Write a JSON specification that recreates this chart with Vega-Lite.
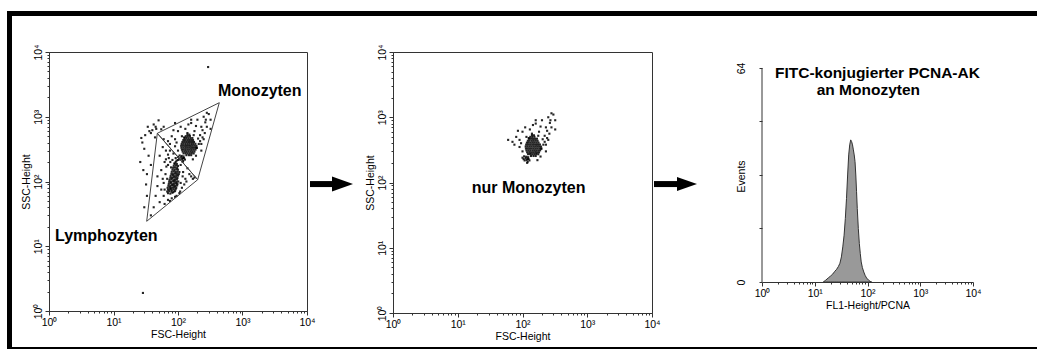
{
"$schema":"https://vega.github.io/schema/vega-lite/v6.json",
"padding":{"left":7,"top":7,"right":0,"bottom":8},
"background":"white",
"data":{"values":[{}]},
"datasets":{
"events":[
{"x":70,"y":66,"g":"L"},{"x":76,"y":65,"g":"L"},{"x":82,"y":67,"g":"L"},
{"x":68,"y":70,"g":"L"},{"x":73,"y":71,"g":"L"},{"x":79,"y":70,"g":"L"},{"x":85,"y":69,"g":"L"},{"x":90,"y":71,"g":"L"},
{"x":70,"y":75,"g":"L"},{"x":75,"y":76,"g":"L"},{"x":80,"y":74,"g":"L"},{"x":86,"y":75,"g":"L"},{"x":92,"y":76,"g":"L"},
{"x":69,"y":80,"g":"L"},{"x":74,"y":81,"g":"L"},{"x":78,"y":79,"g":"L"},{"x":83,"y":80,"g":"L"},{"x":88,"y":81,"g":"L"},{"x":94,"y":80,"g":"L"},
{"x":71,"y":86,"g":"L"},{"x":76,"y":85,"g":"L"},{"x":81,"y":87,"g":"L"},{"x":86,"y":86,"g":"L"},{"x":91,"y":85,"g":"L"},{"x":97,"y":87,"g":"L"},
{"x":72,"y":92,"g":"L"},{"x":77,"y":93,"g":"L"},{"x":82,"y":91,"g":"L"},{"x":87,"y":92,"g":"L"},{"x":93,"y":93,"g":"L"},{"x":98,"y":92,"g":"L"},
{"x":73,"y":99,"g":"L"},{"x":78,"y":98,"g":"L"},{"x":84,"y":100,"g":"L"},{"x":89,"y":99,"g":"L"},{"x":95,"y":98,"g":"L"},{"x":101,"y":100,"g":"L"},
{"x":74,"y":106,"g":"L"},{"x":79,"y":107,"g":"L"},{"x":85,"y":105,"g":"L"},{"x":90,"y":106,"g":"L"},{"x":96,"y":107,"g":"L"},
{"x":76,"y":114,"g":"L"},{"x":81,"y":113,"g":"L"},{"x":86,"y":115,"g":"L"},{"x":92,"y":114,"g":"L"},{"x":98,"y":113,"g":"L"},
{"x":77,"y":122,"g":"L"},{"x":83,"y":123,"g":"L"},{"x":88,"y":121,"g":"L"},{"x":94,"y":122,"g":"L"},{"x":100,"y":123,"g":"L"},
{"x":79,"y":131,"g":"L"},{"x":84,"y":130,"g":"L"},{"x":90,"y":132,"g":"L"},{"x":96,"y":131,"g":"L"},{"x":103,"y":130,"g":"L"},
{"x":80,"y":141,"g":"L"},{"x":86,"y":142,"g":"L"},{"x":92,"y":140,"g":"L"},{"x":98,"y":141,"g":"L"},
{"x":82,"y":152,"g":"L"},{"x":88,"y":151,"g":"L"},{"x":94,"y":153,"g":"L"},{"x":100,"y":152,"g":"L"},
{"x":84,"y":163,"g":"L"},{"x":90,"y":164,"g":"L"},{"x":97,"y":162,"g":"L"},
{"x":86,"y":175,"g":"L"},{"x":93,"y":176,"g":"L"},{"x":100,"y":174,"g":"L"},
{"x":89,"y":188,"g":"L"},{"x":96,"y":187,"g":"L"},{"x":92,"y":200,"g":"L"},
{"x":55,"y":150,"g":"L"},{"x":60,"y":95,"g":"L"},{"x":62,"y":200,"g":"L"},{"x":65,"y":300,"g":"L"},{"x":70,"y":260,"g":"L"},
{"x":100,"y":215,"g":"L"},{"x":110,"y":180,"g":"L"},{"x":120,"y":140,"g":"L"},{"x":130,"y":110,"g":"L"},{"x":115,"y":80,"g":"L"},
{"x":105,"y":66,"g":"L"},{"x":95,"y":60,"g":"L"},{"x":60,"y":60,"g":"L"},{"x":52,"y":48,"g":"L"},{"x":48,"y":120,"g":"L"},
{"x":52,"y":250,"g":"L"},{"x":58,"y":340,"g":"L"},{"x":75,"y":300,"g":"L"},{"x":85,"y":270,"g":"L"},{"x":140,"y":160,"g":"L"},
{"x":150,"y":130,"g":"L"},{"x":125,"y":90,"g":"L"},{"x":90,"y":58,"g":"L"},{"x":80,"y":55,"g":"L"},{"x":55,"y":75,"g":"L"},
{"x":48,"y":85,"g":"L"},{"x":66,"y":170,"g":"L"},{"x":72,"y":230,"g":"L"},{"x":64,"y":130,"g":"L"},{"x":68,"y":110,"g":"L"},
{"x":110,"y":95,"g":"L"},{"x":118,"y":120,"g":"L"},{"x":105,"y":140,"g":"L"},{"x":62,"y":75,"g":"L"},{"x":58,"y":110,"g":"L"},
{"x":108,"y":70,"g":"L"},{"x":135,"y":100,"g":"L"},{"x":160,"y":120,"g":"L"},{"x":170,"y":110,"g":"L"},{"x":180,"y":115,"g":"L"},
{"x":62,"y":45,"g":"L"},{"x":75,"y":50,"g":"L"},{"x":70,"y":52,"g":"L"},{"x":45,"y":60,"g":"L"},{"x":42,"y":40,"g":"L"},{"x":38,"y":30,"g":"L"},
{"x":70,"y":180,"g":"L"},{"x":76,"y":200,"g":"L"},{"x":82,"y":215,"g":"L"},{"x":88,"y":190,"g":"L"},{"x":78,"y":165,"g":"L"},{"x":92,"y":230,"g":"L"},{"x":95,"y":210,"g":"L"},{"x":65,"y":220,"g":"L"},
{"x":28,"y":400,"g":"N"},{"x":30,"y":320,"g":"N"},{"x":35,"y":250,"g":"N"},{"x":38,"y":180,"g":"N"},{"x":33,"y":130,"g":"N"},
{"x":33,"y":60,"g":"N"},{"x":30,"y":40,"g":"N"},{"x":44,"y":480,"g":"N"},{"x":26,"y":200,"g":"N"},{"x":38,"y":560,"g":"N"},
{"x":40,"y":620,"g":"N"},{"x":32,"y":90,"g":"N"},{"x":29,"y":150,"g":"N"},{"x":45,"y":700,"g":"N"},{"x":55,"y":640,"g":"N"},
{"x":60,"y":700,"g":"N"},{"x":90,"y":800,"g":"N"},{"x":27,"y":470,"g":"N"},{"x":31,"y":520,"g":"N"},{"x":34,"y":700,"g":"N"},
{"x":36,"y":600,"g":"N"},{"x":42,"y":760,"g":"N"},{"x":50,"y":880,"g":"N"},{"x":46,"y":650,"g":"N"},
{"x":293,"y":5860,"g":"N"},{"x":28.6,"y":1.9,"g":"N"},
{"x":135,"y":255,"g":"M"},{"x":148,"y":255,"g":"M"},{"x":160,"y":255,"g":"M"},
{"x":122,"y":272,"g":"M"},{"x":131,"y":273,"g":"M"},{"x":141,"y":271,"g":"M"},{"x":152,"y":272,"g":"M"},{"x":163,"y":273,"g":"M"},{"x":175,"y":271,"g":"M"},
{"x":118,"y":290,"g":"M"},{"x":127,"y":291,"g":"M"},{"x":136,"y":289,"g":"M"},{"x":146,"y":290,"g":"M"},{"x":157,"y":291,"g":"M"},{"x":168,"y":289,"g":"M"},{"x":180,"y":290,"g":"M"},
{"x":115,"y":310,"g":"M"},{"x":123,"y":311,"g":"M"},{"x":132,"y":309,"g":"M"},{"x":142,"y":310,"g":"M"},{"x":152,"y":311,"g":"M"},{"x":163,"y":309,"g":"M"},{"x":175,"y":310,"g":"M"},{"x":187,"y":311,"g":"M"},
{"x":113,"y":332,"g":"M"},{"x":121,"y":333,"g":"M"},{"x":130,"y":331,"g":"M"},{"x":139,"y":332,"g":"M"},{"x":149,"y":333,"g":"M"},{"x":160,"y":331,"g":"M"},{"x":171,"y":332,"g":"M"},{"x":183,"y":333,"g":"M"},{"x":195,"y":331,"g":"M"},
{"x":112,"y":356,"g":"M"},{"x":120,"y":357,"g":"M"},{"x":129,"y":355,"g":"M"},{"x":138,"y":356,"g":"M"},{"x":148,"y":357,"g":"M"},{"x":158,"y":355,"g":"M"},{"x":169,"y":356,"g":"M"},{"x":181,"y":357,"g":"M"},{"x":193,"y":355,"g":"M"},
{"x":114,"y":381,"g":"M"},{"x":122,"y":382,"g":"M"},{"x":131,"y":380,"g":"M"},{"x":141,"y":381,"g":"M"},{"x":151,"y":382,"g":"M"},{"x":162,"y":380,"g":"M"},{"x":173,"y":381,"g":"M"},{"x":186,"y":382,"g":"M"},
{"x":117,"y":408,"g":"M"},{"x":125,"y":409,"g":"M"},{"x":134,"y":407,"g":"M"},{"x":144,"y":408,"g":"M"},{"x":154,"y":409,"g":"M"},{"x":165,"y":407,"g":"M"},{"x":177,"y":408,"g":"M"},
{"x":121,"y":437,"g":"M"},{"x":129,"y":438,"g":"M"},{"x":139,"y":436,"g":"M"},{"x":149,"y":437,"g":"M"},{"x":160,"y":438,"g":"M"},{"x":171,"y":436,"g":"M"},
{"x":126,"y":468,"g":"M"},{"x":135,"y":469,"g":"M"},{"x":145,"y":467,"g":"M"},{"x":156,"y":468,"g":"M"},{"x":167,"y":469,"g":"M"},
{"x":132,"y":501,"g":"M"},{"x":142,"y":500,"g":"M"},{"x":153,"y":502,"g":"M"},
{"x":140,"y":530,"g":"M"},{"x":150,"y":529,"g":"M"},
{"x":70,"y":420,"g":"M"},{"x":80,"y":500,"g":"M"},{"x":90,"y":450,"g":"M"},{"x":100,"y":600,"g":"M"},{"x":110,"y":700,"g":"M"},
{"x":130,"y":650,"g":"M"},{"x":160,"y":800,"g":"M"},{"x":200,"y":900,"g":"M"},{"x":250,"y":1000,"g":"M"},{"x":300,"y":1100,"g":"M"},
{"x":180,"y":600,"g":"M"},{"x":220,"y":520,"g":"M"},{"x":250,"y":450,"g":"M"},{"x":210,"y":380,"g":"M"},{"x":230,"y":300,"g":"M"},
{"x":190,"y":250,"g":"M"},{"x":170,"y":220,"g":"M"},{"x":120,"y":230,"g":"M"},{"x":100,"y":300,"g":"M"},{"x":90,"y":350,"g":"M"},
{"x":75,"y":380,"g":"M"},{"x":60,"y":450,"g":"M"},{"x":85,"y":620,"g":"M"},{"x":140,"y":560,"g":"M"},{"x":175,"y":520,"g":"M"},
{"x":280,"y":700,"g":"M"},{"x":320,"y":900,"g":"M"},{"x":160,"y":900,"g":"M"},{"x":240,"y":620,"g":"M"},{"x":205,"y":460,"g":"M"},
{"x":265,"y":820,"g":"M"},{"x":190,"y":720,"g":"M"},{"x":145,"y":760,"g":"M"},{"x":115,"y":500,"g":"M"},{"x":95,"y":400,"g":"M"},
{"x":125,"y":480,"g":"M"},{"x":230,"y":380,"g":"M"},{"x":195,"y":330,"g":"M"},
{"x":100,"y":240,"g":"M"},{"x":104,"y":228,"g":"M"},{"x":108,"y":218,"g":"M"},{"x":112,"y":236,"g":"M"},{"x":116,"y":222,"g":"M"},
{"x":120,"y":208,"g":"M"},{"x":124,"y":230,"g":"M"},{"x":128,"y":218,"g":"M"},{"x":106,"y":252,"g":"M"},{"x":114,"y":248,"g":"M"},
{"x":122,"y":244,"g":"M"},{"x":118,"y":200,"g":"M"},
{"x":230,"y":700,"g":"M"},{"x":270,"y":900,"g":"M"},{"x":280,"y":1150,"g":"M"},{"x":320,"y":650,"g":"M"},{"x":260,"y":560,"g":"M"},
{"x":240,"y":480,"g":"M"},{"x":220,"y":420,"g":"M"}
],
"gates":[
{"gate":"Lymphozyten","i":0,"x":32.7,"y":24.3},{"gate":"Lymphozyten","i":1,"x":47.8,"y":555},{"gate":"Lymphozyten","i":2,"x":202,"y":106.6},{"gate":"Lymphozyten","i":3,"x":32.7,"y":24.3},
{"gate":"Monozyten","i":0,"x":47.8,"y":555},{"gate":"Monozyten","i":1,"x":437,"y":1648},{"gate":"Monozyten","i":2,"x":202,"y":106.6},{"gate":"Monozyten","i":3,"x":47.8,"y":555}
],
"hist":[
{"fl1":14.5,"count":0},{"fl1":16,"count":0.5},{"fl1":18,"count":1.2},{"fl1":20,"count":1.8},{"fl1":22,"count":2.4},{"fl1":24,"count":3.2},
{"fl1":26,"count":3.8},{"fl1":28,"count":4.6},{"fl1":30,"count":5.6},{"fl1":32,"count":7.5},{"fl1":34,"count":10.5},{"fl1":36,"count":14},
{"fl1":38,"count":19},{"fl1":40,"count":25},{"fl1":42,"count":32},{"fl1":44,"count":38},{"fl1":46,"count":41},{"fl1":48,"count":42.5},
{"fl1":50,"count":42},{"fl1":52,"count":41},{"fl1":54,"count":39.5},{"fl1":56,"count":38},{"fl1":58,"count":36},{"fl1":60,"count":32},
{"fl1":62,"count":27},{"fl1":64,"count":22},{"fl1":67,"count":16},{"fl1":70,"count":11.5},{"fl1":73,"count":8.5},{"fl1":76,"count":6},
{"fl1":80,"count":4.3},{"fl1":85,"count":3},{"fl1":90,"count":2},{"fl1":96,"count":1.2},{"fl1":104,"count":0.6},{"fl1":112,"count":0.2},{"fl1":120,"count":0}
]
},
"config":{
"font":"Liberation Sans",
"view":{"stroke":null},
"axis":{"grid":false,"domainColor":"#333","tickColor":"#333","labelColor":"#000","titleColor":"#000","labelFontSize":10.5,"titleFontSize":10.5,"titleFontWeight":"normal","labelPadding":2,"titlePadding":2,"domainWidth":1,"tickWidth":1}
},
"columns":8,
"spacing":0,
"bounds":"flush",
"concat":[
{"width":5,"height":5,"view":{"fill":"#000","stroke":null},"mark":{"type":"text","text":""}},
{"width":37,"height":5,"view":{"fill":"#000","stroke":null},"mark":{"type":"text","text":""}},
{"width":258,"height":5,"view":{"fill":"#000","stroke":null},"mark":{"type":"text","text":""}},
{"width":86,"height":5,"view":{"fill":"#000","stroke":null},"mark":{"type":"text","text":""}},
{"width":259,"height":5,"view":{"fill":"#000","stroke":null},"mark":{"type":"text","text":""}},
{"width":110,"height":5,"view":{"fill":"#000","stroke":null},"mark":{"type":"text","text":""}},
{"width":211,"height":5,"view":{"fill":"#000","stroke":null},"mark":{"type":"text","text":""}},
{"width":64,"height":5,"view":{"fill":"#000","stroke":null},"mark":{"type":"text","text":""}},

{"width":5,"height":36,"view":{"fill":"#000","stroke":null},"mark":{"type":"text","text":""}},
{"width":1,"height":1,"mark":{"type":"text","text":""}},
{"width":1,"height":1,"mark":{"type":"text","text":""}},
{"width":1,"height":1,"mark":{"type":"text","text":""}},
{"width":1,"height":1,"mark":{"type":"text","text":""}},
{"width":1,"height":1,"mark":{"type":"text","text":""}},
{"width":1,"height":1,"mark":{"type":"text","text":""}},
{"width":1,"height":1,"mark":{"type":"text","text":""}},

{"width":5,"height":261,"view":{"fill":"#000","stroke":null},"mark":{"type":"text","text":""}},
{"width":1,"height":1,"mark":{"type":"text","text":""}},
{"width":258,"height":259,"view":{"stroke":"#333","fill":null},
"layer":[
{"data":{"name":"events"},"mark":{"type":"square","size":4.5,"color":"#000","opacity":0.85},
"encoding":{
"x":{"field":"x","type":"quantitative","title":"FSC-Height","scale":{"type":"log","domain":[1,10000]},
"axis":{"values":[1,2,3,4,5,6,7,8,9,10,20,30,40,50,60,70,80,90,100,200,300,400,500,600,700,800,900,1000,2000,3000,4000,5000,6000,7000,8000,9000,10000],
"labelExpr":"indexof([1,10,100,1000,10000], datum.value) >= 0 ? '10' + ['⁰','¹','²','³','⁴'][indexof([1,10,100,1000,10000], datum.value)] : ''",
"tickSize":{"condition":{"test":"indexof([1,10,100,1000,10000], datum.value) >= 0","value":4},"value":2},
"labelFlush":false,"labelOverlap":false}},
"y":{"field":"y","type":"quantitative","title":"SSC-Height","scale":{"type":"log","domain":[1,10000]},
"axis":{"values":[1,2,3,4,5,6,7,8,9,10,20,30,40,50,60,70,80,90,100,200,300,400,500,600,700,800,900,1000,2000,3000,4000,5000,6000,7000,8000,9000,10000],
"labelExpr":"indexof([1,10,100,1000,10000], datum.value) >= 0 ? '10' + ['⁰','¹','²','³','⁴'][indexof([1,10,100,1000,10000], datum.value)] : ''",
"tickSize":{"condition":{"test":"indexof([1,10,100,1000,10000], datum.value) >= 0","value":4},"value":2},
"labelFlush":false,"labelOverlap":false,"labelAngle":270,"labelAlign":"center","labelBaseline":"bottom","titlePadding":2}}
}},
{"data":{"name":"gates"},"mark":{"type":"line","color":"#444","strokeWidth":1},
"encoding":{"x":{"field":"x","type":"quantitative"},"y":{"field":"y","type":"quantitative"},"detail":{"field":"gate"},"order":{"field":"i","type":"quantitative"}}},
{"mark":{"type":"text","text":"Monozyten","align":"left","baseline":"alphabetic","fontSize":16,"fontWeight":"bold","color":"#000"},
"encoding":{"x":{"datum":417},"y":{"datum":2114}}},
{"mark":{"type":"text","text":"Lymphozyten","align":"left","baseline":"alphabetic","fontSize":16,"fontWeight":"bold","color":"#000"},
"encoding":{"x":{"datum":1.24},"y":{"datum":11.9}}}
]},
{"width":86,"height":261,
"layer":[
{"mark":{"type":"rule","color":"#000","strokeWidth":6},
"encoding":{"x":{"datum":0.035,"type":"quantitative","scale":{"domain":[0,1]},"axis":null},"x2":{"datum":0.305},"y":{"datum":0.494,"type":"quantitative","scale":{"domain":[0,1]},"axis":null}}},
{"mark":{"type":"point","shape":"M-1,-0.71L1,0L-1,0.71Z","size":441,"filled":true,"color":"#000","opacity":1},
"encoding":{"x":{"datum":0.413,"type":"quantitative"},"y":{"datum":0.494,"type":"quantitative"}}}
]},
{"width":259,"height":261,"view":{"stroke":"#333","fill":null},
"layer":[
{"data":{"name":"events"},"transform":[{"filter":"datum.g === 'M'"}],"mark":{"type":"square","size":4.5,"color":"#000","opacity":0.85},
"encoding":{
"x":{"field":"x","type":"quantitative","title":"FSC-Height","scale":{"type":"log","domain":[1,10000]},
"axis":{"values":[1,2,3,4,5,6,7,8,9,10,20,30,40,50,60,70,80,90,100,200,300,400,500,600,700,800,900,1000,2000,3000,4000,5000,6000,7000,8000,9000,10000],
"labelExpr":"indexof([1,10,100,1000,10000], datum.value) >= 0 ? '10' + ['⁰','¹','²','³','⁴'][indexof([1,10,100,1000,10000], datum.value)] : ''",
"tickSize":{"condition":{"test":"indexof([1,10,100,1000,10000], datum.value) >= 0","value":4},"value":2},
"labelFlush":false,"labelOverlap":false}},
"y":{"field":"y","type":"quantitative","title":"SSC-Height","scale":{"type":"log","domain":[1,10000]},
"axis":{"values":[1,2,3,4,5,6,7,8,9,10,20,30,40,50,60,70,80,90,100,200,300,400,500,600,700,800,900,1000,2000,3000,4000,5000,6000,7000,8000,9000,10000],
"labelExpr":"indexof([1,10,100,1000,10000], datum.value) >= 0 ? '10' + ['⁰','¹','²','³','⁴'][indexof([1,10,100,1000,10000], datum.value)] : ''",
"tickSize":{"condition":{"test":"indexof([1,10,100,1000,10000], datum.value) >= 0","value":4},"value":2},
"labelFlush":false,"labelOverlap":false,"labelAngle":270,"labelAlign":"center","labelBaseline":"bottom","titlePadding":2}}
}},
{"mark":{"type":"text","text":"nur Monozyten","align":"left","baseline":"alphabetic","fontSize":16,"fontWeight":"bold","color":"#000"},
"encoding":{"x":{"datum":16.4},"y":{"datum":69}}}
]},
{"width":110,"height":261,
"layer":[
{"mark":{"type":"rule","color":"#000","strokeWidth":6},
"encoding":{"x":{"datum":0.018,"type":"quantitative","scale":{"domain":[0,1]},"axis":null},"x2":{"datum":0.24},"y":{"datum":0.494,"type":"quantitative","scale":{"domain":[0,1]},"axis":null}}},
{"mark":{"type":"point","shape":"M-1,-0.7L1,0L-1,0.7Z","size":400,"filled":true,"color":"#000","opacity":1},
"encoding":{"x":{"datum":0.318,"type":"quantitative"},"y":{"datum":0.494,"type":"quantitative"}}}
]},
{"width":211,"height":230,
"layer":[
{"data":{"name":"hist"},"mark":{"type":"area","color":"#999","stroke":"#333","strokeWidth":1,"opacity":1},
"encoding":{
"x":{"field":"fl1","type":"quantitative","title":"FL1-Height/PCNA","scale":{"type":"log","domain":[1,10000]},
"axis":{"values":[1,2,3,4,5,6,7,8,9,10,20,30,40,50,60,70,80,90,100,200,300,400,500,600,700,800,900,1000,2000,3000,4000,5000,6000,7000,8000,9000,10000],
"labelExpr":"indexof([1,10,100,1000,10000], datum.value) >= 0 ? '10' + ['⁰','¹','²','³','⁴'][indexof([1,10,100,1000,10000], datum.value)] : ''",
"tickSize":{"condition":{"test":"indexof([1,10,100,1000,10000], datum.value) >= 0","value":4},"value":2},
"labelFlush":false,"labelOverlap":false}},
"y":{"field":"count","type":"quantitative","title":"Events","scale":{"domain":[0,68.78],"nice":false},
"axis":{"values":[0,16,32,48,64],"domain":false,"tickSize":3,"labelExpr":"datum.value == 0 || datum.value == 64 ? datum.label : ''",
"labelAngle":270,"labelAlign":"center","labelBaseline":"bottom","labelPadding":13,"labelFlush":false,"labelOverlap":false,
"titleX":-21,"titleY":124,"titleBaseline":"middle","titleAngle":270}}
}},
{"mark":{"type":"rule","color":"#333","strokeWidth":1},
"encoding":{"x":{"datum":1},"y":{"datum":0},"y2":{"datum":64}}},
{"mark":{"type":"text","text":"FITC-konjugierter PCNA-AK","align":"left","baseline":"alphabetic","fontSize":15.5,"fontWeight":"bold","color":"#000"},
"encoding":{"x":{"datum":1.76},"y":{"datum":60.9}}},
{"mark":{"type":"text","text":"an Monozyten","align":"left","baseline":"alphabetic","fontSize":15.5,"fontWeight":"bold","color":"#000"},
"encoding":{"x":{"datum":10.9},"y":{"datum":55.9}}}
]},
{"width":1,"height":1,"mark":{"type":"text","text":""}},

{"width":5,"height":34,"view":{"fill":"#000","stroke":null},"mark":{"type":"text","text":""}},
{"width":1,"height":1,"mark":{"type":"text","text":""}},
{"width":1,"height":1,"mark":{"type":"text","text":""}},
{"width":1,"height":1,"mark":{"type":"text","text":""}},
{"width":1,"height":1,"mark":{"type":"text","text":""}},
{"width":1,"height":1,"mark":{"type":"text","text":""}},
{"width":1,"height":1,"mark":{"type":"text","text":""}},
{"width":1,"height":1,"mark":{"type":"text","text":""}},

{"width":5,"height":2,"view":{"fill":"#000","stroke":null},"mark":{"type":"text","text":""}},
{"width":37,"height":2,"view":{"fill":"#000","stroke":null},"mark":{"type":"text","text":""}},
{"width":258,"height":2,"view":{"fill":"#000","stroke":null},"mark":{"type":"text","text":""}},
{"width":86,"height":2,"view":{"fill":"#000","stroke":null},"mark":{"type":"text","text":""}},
{"width":259,"height":2,"view":{"fill":"#000","stroke":null},"mark":{"type":"text","text":""}},
{"width":110,"height":2,"view":{"fill":"#000","stroke":null},"mark":{"type":"text","text":""}},
{"width":211,"height":2,"view":{"fill":"#000","stroke":null},"mark":{"type":"text","text":""}},
{"width":64,"height":2,"view":{"fill":"#000","stroke":null},"mark":{"type":"text","text":""}}
]
}
